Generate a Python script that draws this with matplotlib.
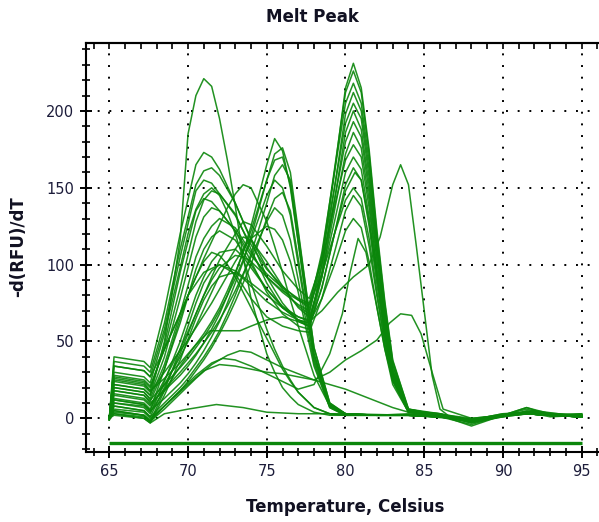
import matplotlib
matplotlib.use("Agg")
import matplotlib.pyplot as plt
from matplotlib.ticker import MultipleLocator

# ---------------- data ----------------
# Single-peak curves (return to baseline after the peak)
x_single = [65, 65.3, 67.2, 67.6, 68.5, 69.5, 70, 70.5, 71, 71.5, 72, 72.5, 73, 73.5, 74,
            75, 75.5, 76, 76.5, 77, 78, 79, 80, 82, 84, 86, 88, 90, 91.5, 93, 95]
single_early_y = [
    [0, 22, 19, 15, 50, 116, 185, 210, 221, 216, 195, 168, 138, 105, 78, 42, 30, 20, 14, 9, 4, 2, 2, 2, 2, 1, -2, 2, 4, 2, 1],
    [0, 30, 27, 23, 55, 98, 120, 136, 146, 150, 145, 134, 120, 104, 88, 58, 45, 34, 25, 17, 7, 3, 2, 2, 2, 1, -1, 2, 3, 2, 2],
    [-1, 12, 9, 5, 32, 65, 80, 92, 102, 108, 106, 100, 92, 82, 72, 52, 42, 32, 24, 17, 7, 3, 2, 2, 2, 1, -1, 2, 7, 2, 1],
    [0, 34, 31, 27, 45, 68, 80, 92, 104, 115, 126, 137, 146, 152, 150, 128, 112, 95, 77, 60, 28, 8, 3, 2, 2, 1, -2, 2, 3, 2, 2],
]
single_mid_y = [
    [0, 18, 15, 10, 18, 28, 34, 41, 49, 58, 68, 80, 94, 108, 125, 165, 182, 174, 150, 114, 42, 9, 3, 2, 3, 2, -1, 2, 3, 2, 2],
    [0, 12, 9, 5, 13, 23, 29, 36, 44, 53, 63, 75, 88, 102, 118, 155, 172, 176, 160, 122, 46, 10, 3, 2, 2, 1, -2, 2, 4, 2, 1],
    [0, 26, 23, 18, 26, 36, 42, 48, 55, 63, 72, 83, 95, 108, 122, 155, 168, 170, 152, 115, 42, 9, 3, 2, 2, 2, -1, 1, 3, 2, 2],
    [-1, 8, 5, 1, 10, 20, 26, 33, 40, 48, 57, 68, 80, 93, 107, 140, 158, 165, 155, 120, 46, 10, 3, 2, 2, 1, -2, 2, 6, 2, 1],
    [0, 20, 17, 12, 22, 33, 39, 46, 53, 61, 70, 80, 91, 103, 116, 145, 155, 150, 132, 100, 38, 8, 3, 2, 2, 2, -1, 2, 4, 2, 2],
    [0, 5, 2, -2, 8, 18, 24, 31, 38, 46, 55, 65, 76, 88, 100, 130, 143, 147, 135, 104, 40, 8, 2, 2, 2, 1, -4, 2, 3, 2, 1],
    [0, 16, 13, 9, 19, 30, 36, 42, 49, 56, 64, 73, 83, 94, 105, 128, 137, 132, 116, 90, 36, 7, 2, 2, 2, 1, -1, 2, 3, 2, 2],
    [0, 24, 21, 17, 30, 44, 51, 59, 67, 75, 84, 93, 102, 110, 117, 125, 123, 116, 102, 82, 34, 7, 2, 2, 2, 2, -1, 2, 3, 2, 1],
]

# Two-peak curves (first peak 71-74 C, second peak ~80.5 C)
x_double = [65, 65.3, 67.2, 67.6, 68.5, 69.5, 70.5, 71, 71.5, 72, 73, 73.5, 74, 75, 76, 77, 77.7,
            78.5, 79.3, 80, 80.5, 81, 81.5, 82, 82.5, 83, 84, 86, 88, 90, 91.5, 93, 95]
double_y = [
    [0, 40, 37, 33, 70, 120, 165, 173, 170, 162, 140, 128, 116, 92, 75, 63, 60, 100, 160, 215, 231, 215, 175, 122, 76, 38, 6, 3, -2, 2, 4, 2, 2],
    [-1, 37, 34, 30, 62, 110, 152, 161, 163, 158, 140, 128, 117, 98, 84, 73, 68, 105, 162, 212, 226, 212, 172, 119, 74, 37, 6, 2, -3, 1, 5, 3, 1],
    [0, 34, 31, 27, 58, 105, 148, 155, 153, 146, 132, 122, 113, 97, 86, 77, 72, 108, 160, 205, 218, 205, 167, 115, 70, 35, 5, 2, -1, 2, 3, 2, 3],
    [0, 27, 24, 20, 45, 85, 128, 142, 148, 146, 133, 122, 110, 88, 72, 64, 62, 95, 150, 198, 212, 200, 162, 112, 68, 34, 5, 3, -2, 2, 4, 1, 2],
    [0, 25, 22, 18, 48, 95, 135, 143, 141, 135, 122, 114, 106, 94, 85, 78, 75, 105, 150, 192, 205, 195, 157, 109, 66, 32, 5, 2, -1, 3, 4, 2, 3],
    [-1, 22, 19, 15, 40, 78, 118, 131, 137, 135, 122, 112, 102, 82, 68, 60, 58, 92, 142, 186, 200, 188, 152, 105, 64, 31, 5, 2, -5, 2, 3, 2, 1],
    [0, 20, 17, 13, 35, 68, 105, 117, 125, 130, 124, 116, 108, 92, 82, 74, 70, 100, 142, 180, 193, 183, 147, 102, 62, 30, 5, 3, -1, 2, 7, 3, 2],
    [0, 18, 15, 11, 32, 62, 97, 110, 118, 122, 116, 108, 100, 84, 73, 66, 64, 93, 135, 172, 186, 176, 142, 97, 60, 29, 5, 2, -2, 1, 3, 2, 1],
    [0, 15, 12, 8, 25, 45, 68, 80, 92, 103, 120, 128, 126, 112, 96, 84, 78, 102, 138, 168, 178, 170, 137, 95, 58, 28, 5, 2, -1, 2, 3, 2, 2],
    [0, 13, 10, 6, 22, 40, 60, 71, 82, 93, 110, 118, 116, 102, 86, 72, 66, 92, 128, 160, 170, 162, 131, 91, 55, 27, 4, 2, -2, 2, 4, 2, 1],
    [-1, 10, 7, 3, 24, 50, 80, 92, 102, 108, 110, 105, 98, 84, 72, 64, 60, 85, 120, 152, 163, 155, 125, 87, 53, 26, 4, 2, -1, 3, 3, 2, 2],
    [0, 8, 5, 1, 20, 42, 68, 80, 90, 98, 106, 105, 102, 92, 83, 77, 74, 94, 120, 142, 150, 143, 117, 82, 50, 25, 4, 2, -2, 2, 4, 2, 1],
    [0, 5, 2, -2, 18, 45, 75, 88, 96, 100, 94, 86, 78, 66, 60, 57, 56, 78, 108, 135, 145, 138, 112, 79, 48, 24, 4, 2, -1, 2, 3, 2, 1],
    [0, 3, 0, -3, 15, 38, 65, 77, 86, 92, 95, 91, 86, 76, 69, 64, 62, 78, 100, 122, 130, 124, 102, 72, 45, 22, 4, 2, -2, 2, 3, 2, 1],
]

# Individual curves
low44_x = [65, 65.3, 67.2, 67.6, 68.5, 69.5, 70.5, 71.5, 72.5, 73.3, 74, 75, 76, 77, 78, 79, 80, 81, 82,
           82.8, 83.5, 84.2, 84.8, 85.5, 86.2, 88, 90, 92, 95]
low44_y = [0, 3, 1, -2, 6, 16, 26, 35, 41, 44, 43, 38, 33, 29, 25, 30, 38, 44, 51,
           62, 68, 67, 55, 30, 6, 0, 2, 4, 2]

low39_x = [65, 65.3, 67.2, 67.6, 68.5, 69.5, 70.5, 71.5, 72.2, 73, 74, 75, 76, 77, 78, 79, 79.8, 80.3,
           80.8, 81.3, 82, 82.5, 83, 84, 86, 88, 90, 92, 95]
low39_y = [0, 6, 4, 0, 8, 18, 28, 36, 39, 38, 34, 29, 24, 19, 22, 42, 68, 95,
           117, 108, 72, 45, 25, 6, 2, -3, 2, 5, 1]

low35_x = [65, 65.3, 67.2, 67.6, 68.5, 70, 71, 72, 73, 74, 75, 76, 77, 78, 79, 80, 81, 82, 83, 84,
           86, 88, 90, 92, 95]
low35_y = [0, 4, 2, -1, 8, 22, 31, 35, 34, 32, 30, 29, 27, 25, 22, 19, 15, 11, 7, 4,
           2, -1, 2, 4, 1]

low9_x = [65, 65.3, 67.2, 67.6, 68.5, 70, 71.8, 73.5, 75, 77, 80, 84, 88, 90, 92, 95]
low9_y = [0, 2, 0, -3, 3, 6, 9, 7, 4, 3, 3, 2, -1, 2, 3, 1]

flat57_x = [65, 65.3, 67.2, 67.6, 68.5, 69.5, 70.5, 71.4, 73.3, 74, 75, 76, 77, 77.7, 78.5, 79.3, 80,
            80.6, 81, 81.5, 82, 82.5, 83, 84, 86, 88, 90, 92, 95]
flat57_y = [0, 10, 8, 4, 18, 34, 48, 57, 57, 60, 64, 66, 63, 60, 85, 120, 148,
            160, 155, 128, 92, 56, 26, 5, 2, -1, 2, 3, 1]

late_x = [65, 65.3, 67.2, 67.6, 68.5, 70, 71, 72, 73, 74, 75, 76, 77, 77.7, 78.5, 79.5, 80.5, 81.5,
          82.2, 83, 83.5, 84, 84.5, 85, 85.5, 86, 86.5, 88, 90, 92, 95]
late_y = [0, 28, 25, 21, 45, 80, 95, 100, 96, 88, 80, 72, 66, 63, 70, 82, 92, 100,
          118, 152, 165, 152, 112, 70, 28, 6, 2, 0, 2, 3, 1]

ntc_x = [65, 95]
ntc_y = [-16, -16]

x_ticks = [65, 70, 75, 80, 85, 90, 95]
y_ticks = [0, 50, 100, 150, 200]

# ---------------- plot ----------------
W, H = 599, 522
fig = plt.figure(figsize=(W / 100, H / 100), dpi=100)
ax = fig.add_axes([86 / W, 1 - 451.7 / H, (W - 86) / W, (451.7 - 42.7) / H])

green = "#0a860a"
lw = 1.1
for y in single_early_y + single_mid_y:
    ax.plot(x_single, y, color=green, lw=lw, alpha=0.9, solid_joinstyle="round")
for y in double_y:
    ax.plot(x_double, y, color=green, lw=lw, alpha=0.9, solid_joinstyle="round")
for xs, ys in [(low44_x, low44_y), (low39_x, low39_y), (low35_x, low35_y),
               (low9_x, low9_y), (flat57_x, flat57_y), (late_x, late_y)]:
    ax.plot(xs, ys, color=green, lw=lw, alpha=0.9, solid_joinstyle="round")
ax.plot(ntc_x, ntc_y, color=green, lw=2.4, solid_capstyle="butt")

ax.set_xlim(63.52, 96.1)
ax.set_ylim(-21.7, 244.4)

ax.set_xticks(x_ticks)
ax.set_yticks(y_ticks)
ax.xaxis.set_minor_locator(MultipleLocator(1))
ax.yaxis.set_minor_locator(MultipleLocator(10))

ax.spines["right"].set_visible(False)
for s in ["left", "bottom", "top"]:
    ax.spines[s].set_linewidth(1.5)
    ax.spines[s].set_color("black")

lab_color = "#1c1c3a"
ax.tick_params(axis="both", which="major", direction="inout", length=9, width=1.4,
               labelsize=10.5, labelcolor=lab_color, colors="black")
ax.tick_params(axis="both", which="minor", direction="inout", length=6, width=1.2, colors="black")
ax.tick_params(axis="x", which="major", pad=4)
ax.tick_params(axis="y", which="major", pad=4)

sec = ax.secondary_xaxis("top")
sec.set_xticks(x_ticks)
sec.xaxis.set_minor_locator(MultipleLocator(1))
sec.tick_params(axis="x", which="both", direction="in", length=4, width=1.2, labeltop=False)
sec.spines["top"].set_linewidth(1.5)

ax.grid(which="major", color="black", linestyle=(0, (1, 5)), linewidth=1.4)
ax.set_axisbelow(True)

fig.text(312 / W, 1 - 17 / H, "Melt Peak", ha="center", va="center",
         fontsize=12, fontweight="bold", color="#111122")
fig.text(345 / W, 1 - 507 / H, "Temperature, Celsius", ha="center", va="center",
         fontsize=12, fontweight="bold", color="#111122")
fig.text(18 / W, 1 - 247 / H, "-d(RFU)/dT", ha="center", va="center", rotation=90,
         fontsize=12, fontweight="bold", color="#111122")

fig.savefig("out.png", dpi=100)
